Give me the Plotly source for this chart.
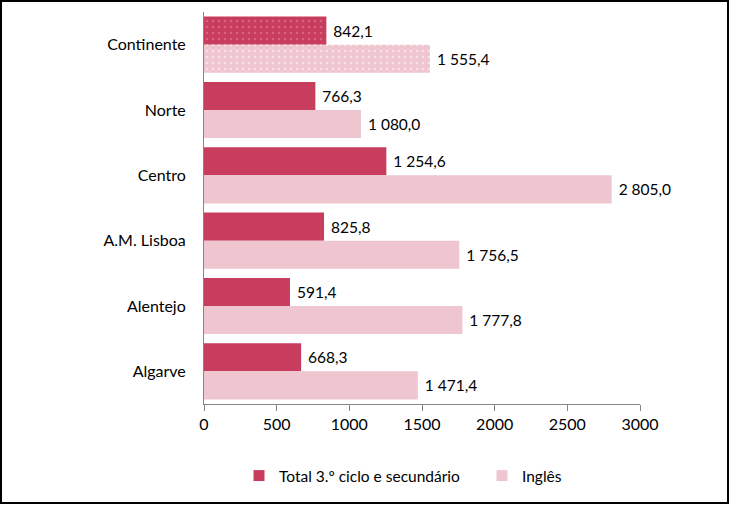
import plotly.graph_objects as go

categories = ["Continente", "Norte", "Centro", "A.M. Lisboa", "Alentejo", "Algarve"]
total_values = [842.1, 766.3, 1254.6, 825.8, 591.4, 668.3]
ingles_values = [1555.4, 1080.0, 2805.0, 1756.5, 1777.8, 1471.4]
series_names = ["Total 3.º ciclo e secundário", "Inglês"]
x_ticks = [0, 500, 1000, 1500, 2000, 2500, 3000]

W, H = 729, 505
ml, mr, mt, mb = 204, 89, 12, 101
pw, ph = W - ml - mr, H - mt - mb

dark = "#C83C5E"
light = "#EFC5CF"
patt = ["." if c == "Continente" else "" for c in categories]
FONT = "Lato, Open Sans, sans-serif"

fig = go.Figure()
fig.add_trace(go.Bar(
    y=categories, x=total_values, orientation="h", name=series_names[0], showlegend=False,
    marker=dict(color=dark, line=dict(width=0),
                pattern=dict(shape=patt, fgcolor="#E889A0", size=6, solidity=0.15)),
    texttemplate="\u00a0%{x:,.1f}", textposition="outside", cliponaxis=False,
    textfont=dict(size=15.5, color="#000000"),
))
fig.add_trace(go.Bar(
    y=categories, x=ingles_values, orientation="h", name=series_names[1], showlegend=False,
    marker=dict(color=light, line=dict(width=0),
                pattern=dict(shape=patt, fgcolor="#FFFFFF", size=6, solidity=0.15)),
    texttemplate="\u00a0%{x:,.1f}", textposition="outside", cliponaxis=False,
    textfont=dict(size=15.5, color="#000000"),
))
# legend entries (plain squares), each in its own legend box
for nm, col, lg in zip(series_names, [dark, light], ["legend", "legend2"]):
    fig.add_trace(go.Scatter(x=[None], y=[None], mode="markers", name=nm, legend=lg,
                             marker=dict(symbol="square", size=11, color=col),
                             showlegend=True))

leg_common = dict(orientation="h", xanchor="left", y=-72 / ph, yanchor="middle",
                  bgcolor="rgba(0,0,0,0)", font=dict(size=15.5), itemwidth=30)

fig.update_layout(
    width=W, height=H,
    margin=dict(l=ml, r=mr, t=mt, b=mb, autoexpand=False),
    barmode="group", bargap=0.14, bargroupgap=0,
    separators=", ",
    plot_bgcolor="white", paper_bgcolor="white",
    font=dict(family=FONT, size=16, color="#000000"),
    showlegend=True,
    legend=dict(x=(239 - ml) / pw, **leg_common),
    legend2=dict(x=(482 - ml) / pw, **leg_common),
    xaxis=dict(range=[0, 3000], tickvals=x_ticks, ticktext=[str(v) for v in x_ticks],
               showgrid=False, zeroline=False, showline=True, linecolor="#868686",
               linewidth=1, ticks="outside", ticklen=6, tickcolor="#868686",
               tickfont=dict(size=16)),
    yaxis=dict(autorange="reversed", showgrid=False, showline=True, linecolor="#868686",
               linewidth=1, ticks="", ticklabelstandoff=14, tickfont=dict(size=16)),
    shapes=[dict(type="rect", xref="paper", yref="paper",
                 x0=(1 - ml) / pw, x1=(W - 1 - ml) / pw,
                 y0=-(mb - 2) / ph, y1=(ph + mt - 1) / ph,
                 line=dict(color="#000000", width=2), fillcolor="rgba(0,0,0,0)")],
)

fig.write_html("out.html")
